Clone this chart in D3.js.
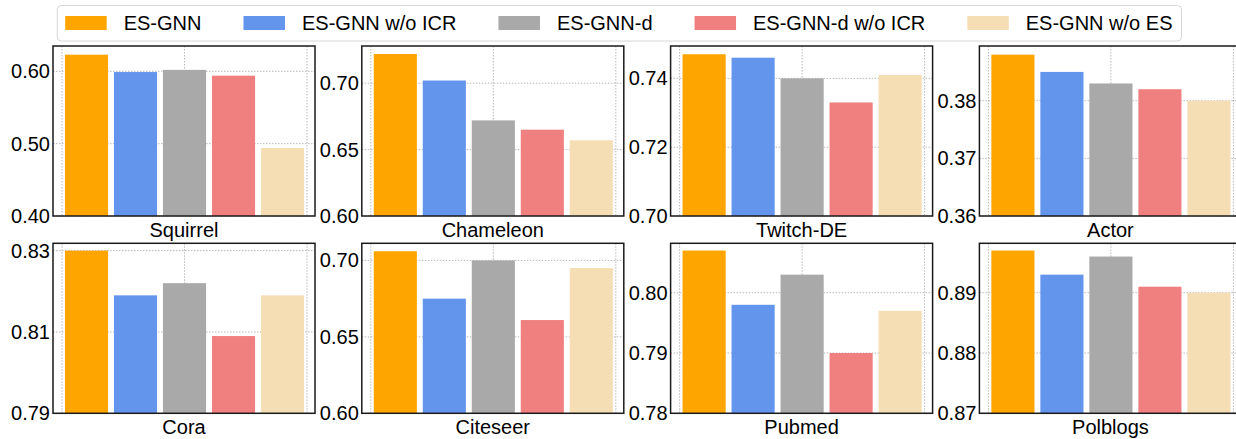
<!DOCTYPE html>
<html>
<head>
<meta charset="utf-8">
<script src="https://cdn.jsdelivr.net/npm/d3@7"></script>
<style>
  html, body { margin: 0; padding: 0; background: #fff; }
  svg { display: block; overflow: hidden; }
  text { font-family: "Liberation Sans", Arial, Helvetica, sans-serif; fill: #000; }
</style>
</head>
<body>
<svg id="chart" width="1236" height="439"></svg>
<script>
// Ablation results per dataset
const datasets = ["Squirrel", "Chameleon", "Twitch-DE", "Actor", "Cora", "Citeseer", "Pubmed", "Polblogs"];
const methods = ["ES-GNN", "ES-GNN w/o ICR", "ES-GNN-d", "ES-GNN-d w/o ICR", "ES-GNN w/o ES"];
const methodColors = ["#FFA500", "#6495ED", "#A9A9A9", "#F08080", "#F5DEB3"];

const esGnn        = [0.623, 0.722, 0.747, 0.388, 0.830, 0.706, 0.807, 0.897];
const esGnnNoIcr   = [0.599, 0.702, 0.746, 0.385, 0.819, 0.675, 0.798, 0.893];
const esGnnD       = [0.602, 0.672, 0.740, 0.383, 0.822, 0.700, 0.803, 0.896];
const esGnnDNoIcr  = [0.594, 0.665, 0.733, 0.382, 0.809, 0.661, 0.790, 0.891];
const esGnnNoEs    = [0.494, 0.657, 0.741, 0.380, 0.819, 0.695, 0.797, 0.890];
const seriesValues = [esGnn, esGnnNoIcr, esGnnD, esGnnDNoIcr, esGnnNoEs];

// y-axis limits and tick spacing per dataset
const yLower = [0.40, 0.60, 0.70, 0.36, 0.79, 0.60, 0.78, 0.87];
const yUpper = [0.635, 0.728, 0.7494, 0.3895, 0.8318, 0.7112, 0.8082, 0.8982];
const yStep  = [0.10, 0.05, 0.02, 0.01, 0.02, 0.05, 0.01, 0.01];

const svg = d3.select("#chart");

const panelW = 262, panelH = 170;
const colLeft = c => 53 + c * 308.8;
const rowTop = r => 46 + r * 197.3;
const barWidth = 0.88;
const xGrid = [-0.5, 2, 4.5];

datasets.forEach((name, i) => {
  const col = i % 4, row = Math.floor(i / 4);
  const g = svg.append("g").attr("transform", `translate(${colLeft(col)},${rowTop(row)})`);

  const x = d3.scaleLinear().domain([-0.684, 4.663]).range([0, panelW]);
  const y = d3.scaleLinear().domain([yLower[i], yUpper[i]]).range([panelH, 0]);

  const n = Math.floor((yUpper[i] - yLower[i]) / yStep[i] + 1e-6);
  const ticks = d3.range(n + 1).map(k => +(yLower[i] + k * yStep[i]).toFixed(4));

  // grid
  g.append("g").selectAll("line").data(ticks).join("line")
    .attr("x1", 0).attr("x2", panelW)
    .attr("y1", d => y(d)).attr("y2", d => y(d))
    .attr("stroke", "#b8b8b8").attr("stroke-width", 1).attr("stroke-dasharray", "1.5,1.5");
  g.append("g").selectAll("line").data(xGrid).join("line")
    .attr("x1", d => x(d)).attr("x2", d => x(d))
    .attr("y1", 0).attr("y2", panelH)
    .attr("stroke", "#b8b8b8").attr("stroke-width", 1).attr("stroke-dasharray", "1.5,1.5");

  // bars
  const rows = methods.map((m, j) => ({ j, v: seriesValues[j][i], color: methodColors[j] }));
  g.append("g").selectAll("rect").data(rows).join("rect")
    .attr("x", d => x(d.j - barWidth / 2))
    .attr("width", d => x(d.j + barWidth / 2) - x(d.j - barWidth / 2))
    .attr("y", d => y(d.v))
    .attr("height", d => panelH - y(d.v))
    .attr("fill", d => d.color);

  // y axis labels
  const ax = g.append("g").call(
    d3.axisLeft(y).tickValues(ticks).tickFormat(d3.format(".2f")).tickSize(0).tickPadding(3)
  );
  ax.select(".domain").remove();
  ax.selectAll("text").attr("font-size", 20).attr("fill", "#000")
    .style("font-family", '"Liberation Sans", Arial, sans-serif');

  // frame
  g.append("rect").attr("x", 0).attr("y", 0).attr("width", panelW).attr("height", panelH)
    .attr("fill", "none").attr("stroke", "#1a1a1a").attr("stroke-width", 1.5);

  // dataset label
  g.append("text").attr("x", panelW / 2).attr("y", panelH + 21)
    .attr("text-anchor", "middle").attr("font-size", 20).text(name);
});

// legend
const legend = svg.append("g");
const legendBox = legend.append("rect").attr("x", 57.3).attr("y", 5.5).attr("height", 35.5)
  .attr("rx", 4).attr("fill", "#fff").attr("stroke", "#d6d6d6").attr("stroke-width", 1);
let lx = 65.2;
methods.forEach((m, j) => {
  legend.append("rect").attr("x", lx).attr("y", 16).attr("width", 41.5).attr("height", 14)
    .attr("fill", methodColors[j]);
  const t = legend.append("text").attr("x", lx + 58.5).attr("y", 30.2)
    .attr("font-size", 20).text(m);
  const end = lx + 58.5 + t.node().getComputedTextLength();
  if (j === methods.length - 1) legendBox.attr("width", end + 9 - 57.3);
  lx = end + 42;
});
</script>
</body>
</html>
